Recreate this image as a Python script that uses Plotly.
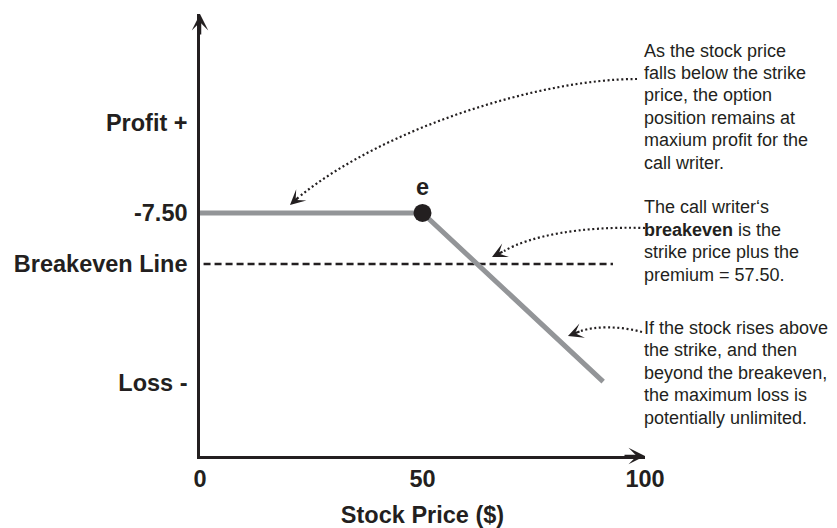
import plotly.graph_objects as go

# ---------------- data ----------------
stock_price = [0, 50, 90.6]
profit = [7.5, 7.5, -17.3]

strike_x = [50]
strike_y = [7.5]
strike_label = ["e"]

breakeven_x = [0.8, 92.8]
breakeven_y = [0, 0]

x_tick_vals = [0, 50, 100]
x_tick_text = ["0", "50", "100"]
y_tick_vals = [20.7, 7.5, 0, -17.5]
y_tick_text = ["Profit +", "-7.50", "Breakeven Line", "Loss -"]

note_below = ["As the stock price", "falls below the strike", "price, the option",
              "position remains at", "maxium profit for the", "call writer."]
note_breakeven = ["The call writer‘s", "<b>breakeven</b> is the", "strike price plus the",
                  "premium = 57.50."]
note_above = ["If the stock rises above", "the strike, and then", "beyond the breakeven,",
              "the maximum loss is", "potentially unlimited."]

# ---------------- layout geometry ----------------
# the page body has an 8px margin, so the figure starts at (8, 8) of the window
OFF = 8
W, H = 837 - OFF, 528 - OFF
L, T = 200 - OFF, 14 - OFF
PLOT_RIGHT, PLOT_BOTTOM = 645 - OFF, 456 - OFF
R, B = W - PLOT_RIGHT, H - PLOT_BOTTOM
X_RANGE = [0, 100]
Y_RANGE = [-28.24, 36.76]
PW, PH = W - L - R, H - T - B

def dx(px):  # window pixel -> x data
    return X_RANGE[0] + (px - OFF - L) / PW * (X_RANGE[1] - X_RANGE[0])

def dy(py):  # window pixel -> y data
    return Y_RANGE[1] - (py - OFF - T) / PH * (Y_RANGE[1] - Y_RANGE[0])

def py2paper(py):
    return (H - B - (py - OFF)) / PH

INK = "#231f20"
GRAY = "#939598"
FONT = "Liberation Sans, Arial, Helvetica, sans-serif"

fig = go.Figure()

fig.add_trace(go.Scatter(
    x=breakeven_x, y=breakeven_y, mode="lines",
    line=dict(color=INK, width=2.4, dash="7px,4px"),
    hoverinfo="skip", showlegend=False))

fig.add_trace(go.Scatter(
    x=stock_price, y=profit, mode="lines",
    line=dict(color=GRAY, width=5),
    showlegend=False))

fig.add_trace(go.Scatter(
    x=strike_x, y=strike_y, mode="markers+text",
    marker=dict(color=INK, size=18),
    text=strike_label, textposition="top center",
    textfont=dict(family=FONT, size=23.5, color=INK, weight="bold"),
    showlegend=False))

# dotted callout curves (window pixel positions -> data coords)
def bez(p0, c1, c2, p3):
    d = [(dx(a), dy(b)) for a, b in (p0, c1, c2, p3)]
    return "M {},{} C {},{} {},{} {},{}".format(*[v for p in d for v in p])

curves = [
    ((637, 79), (540, 79), (385, 128), (300, 196)),
    ((645, 228), (580, 226), (530, 236), (504, 251)),
    ((642, 332), (620, 326), (595, 326), (581, 331)),
]
heads = [((290, 205), 10, -9), ((492, 257), 12, -6), ((568, 336), 13, -5)]

shapes = []
for c in curves:
    shapes.append(dict(type="path", xref="x", yref="y", path=bez(*c),
                       line=dict(color=INK, width=2.2, dash="2px,2.6px")))

annotations = []
for (tx, ty), ax, ay in heads:
    annotations.append(dict(x=dx(tx), y=dy(ty), xref="x", yref="y", text="",
                            showarrow=True, ax=ax, ay=ay, arrowhead=3,
                            arrowsize=1.15, arrowwidth=2.2, arrowcolor=INK, standoff=0))

# axis arrowheads
annotations.append(dict(x=1, y=0, xref="paper", yref="paper", text="", showarrow=True,
                        ax=-22, ay=0, arrowhead=3, arrowsize=1.1, arrowwidth=2.5,
                        arrowcolor=INK, standoff=0))
annotations.append(dict(x=0, y=1, xref="paper", yref="paper", text="", showarrow=True,
                        ax=0, ay=22, arrowhead=3, arrowsize=1.1, arrowwidth=2.5,
                        arrowcolor=INK, standoff=0))

# notes, one annotation per line
LINE_GAP = 22.4
for lines, first_cy in [(note_below, 50.5), (note_breakeven, 207.3), (note_above, 328)]:
    for i, line in enumerate(lines):
        annotations.append(dict(x=1, y=py2paper(first_cy + i * LINE_GAP),
                                xref="paper", yref="paper",
                                text=line, showarrow=False, xanchor="left",
                                yanchor="middle", align="left", xshift=-3,
                                font=dict(family=FONT, size=18, color=INK)))

fig.update_layout(
    width=W, height=H,
    margin=dict(l=L, r=R, t=T, b=B, autoexpand=False),
    paper_bgcolor="white", plot_bgcolor="white",
    font=dict(family=FONT, color=INK),
    shapes=shapes, annotations=annotations,
    xaxis=dict(range=X_RANGE, showgrid=False, zeroline=False,
               showline=True, linecolor=INK, linewidth=2.5,
               tickvals=x_tick_vals, ticktext=x_tick_text, ticks="",
               ticklabelstandoff=0,
               tickfont=dict(family=FONT, size=23.5, color=INK, weight="bold"),
               title=dict(text="Stock Price ($)", standoff=22,
                          font=dict(family=FONT, size=23.5, color=INK, weight="bold"))),
    yaxis=dict(range=Y_RANGE, showgrid=False, zeroline=False,
               showline=True, linecolor=INK, linewidth=2.5,
               tickvals=y_tick_vals, ticktext=y_tick_text, ticks="",
               ticklabelstandoff=5,
               tickfont=dict(family=FONT, size=23.5, color=INK, weight="bold")),
)

fig.write_html("out.html")
